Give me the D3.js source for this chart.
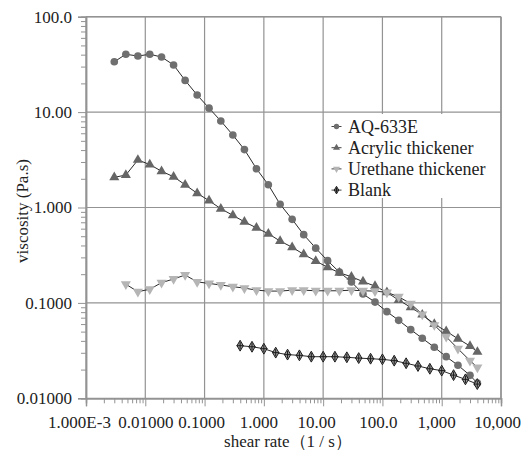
<!DOCTYPE html>
<html><head><meta charset="utf-8">
<script src="https://cdn.jsdelivr.net/npm/d3@7"></script>
<style>body{margin:0;background:#fff}svg{display:block}
svg text{font-family:"Liberation Serif","Times New Roman",Tinos,"Nimbus Roman","DejaVu Serif",serif !important;}
</style>
</head><body>
<svg id="c" width="530" height="457"></svg>
<script>
// ---- data ----
const xMain = [0.003,0.0047,0.0075,0.0119,0.0188,0.03,0.047,0.075,0.119,0.188,0.3,0.47,0.75,1.19,1.88,3,4.7,7.5,11.9,18.8,30,47,75,119,188,300,470,750,1190,1880,3000,4000];
const aq633e = [33.7,40.4,38.7,40.4,37.8,31.2,21.5,15.1,11.0,8.07,5.75,4.05,2.55,1.73,1.08,0.752,0.519,0.375,0.277,0.210,0.166,0.124,0.102,0.0809,0.0657,0.0524,0.0426,0.0343,0.0273,0.0222,0.0174,0.0144];
const acrylic = [2.07,2.19,3.15,2.82,2.40,2.10,1.73,1.41,1.18,0.971,0.828,0.708,0.612,0.531,0.445,0.383,0.323,0.275,0.236,0.207,0.188,0.167,0.150,0.129,0.107,0.0899,0.0752,0.0601,0.0504,0.0421,0.0353,0.0306];
const xUrethane = xMain.slice(1);
const urethane = [0.157,0.131,0.139,0.163,0.178,0.196,0.166,0.160,0.154,0.148,0.143,0.136,0.133,0.133,0.136,0.136,0.134,0.134,0.134,0.136,0.134,0.133,0.129,0.116,0.0981,0.0759,0.0586,0.0442,0.0331,0.0248,0.0211];
const xBlank = [0.398,0.631,1.0,1.585,2.51,3.98,6.31,10,15.8,25.1,39.8,63.1,100,158,251,398,631,1000,1585,2512,3981];
const blank = [0.0356,0.0347,0.0331,0.0301,0.0287,0.0282,0.0273,0.0273,0.0273,0.0269,0.0264,0.0260,0.0256,0.0248,0.0233,0.0218,0.0204,0.0195,0.0175,0.0158,0.0141];
const seriesNames = ["AQ-633E","Acrylic thickener","Urethane thickener","Blank"];
const xTickValues = [1e-3,1e-2,1e-1,1,10,100,1000,10000];
const xTickLabels = ["1.000E-3","0.01000","0.1000","1.000","10.00","100.0","1,000","10,000"];
const yTickValues = [0.01,0.1,1,10,100];
const yTickLabels = ["0.01000","0.1000","1.000","10.00","100.0"];
const xTitle = "shear rate（1 / s）";
const yTitle = "viscosity (Pa.s)";

// ---- layout ----
const svg = d3.select("#c");
const L=86, R=501, T=16.7, B=398.3;
const x = d3.scaleLog().domain([1e-3,1e4]).range([L,R]);
const y = d3.scaleLog().domain([0.01,100]).range([B,T]);
const gridC = "#939393";
const xLabelShift = [-7,0,-3.5,-5.5,-7,-4.5,-5.5,-4];

// grid
const g = svg.append("g");
g.selectAll(".vg").data(xTickValues).join("line")
  .attr("x1",d=>x(d)).attr("x2",d=>x(d)).attr("y1",T).attr("y2",B)
  .attr("stroke",gridC).attr("stroke-width",1.2);
g.selectAll(".hg").data(yTickValues).join("line")
  .attr("x1",L).attr("x2",R).attr("y1",d=>y(d)).attr("y2",d=>y(d))
  .attr("stroke",gridC).attr("stroke-width",1.2);

// minor ticks
const minorX=[], minorY=[];
for(let e=-3;e<4;e++) for(let k=2;k<10;k++) minorX.push(k*Math.pow(10,e));
for(let e=-2;e<2;e++) for(let k=2;k<10;k++) minorY.push(k*Math.pow(10,e));
const xAxis = d3.axisBottom(x).tickValues(xTickValues).tickFormat((d,i)=>xTickLabels[i]).tickSize(8).tickPadding(10);
const xMinor = d3.axisBottom(x).tickValues(minorX).tickFormat("").tickSize(5);
const yAxis = d3.axisLeft(y).tickValues(yTickValues).tickFormat((d,i)=>yTickLabels[i]).tickSize(8).tickPadding(6);
const yMinor = d3.axisLeft(y).tickValues(minorY).tickFormat("").tickSize(5);

function styleAxis(sel){
  sel.attr("font-family",null);
  sel.select(".domain").attr("stroke",gridC).attr("stroke-width",1.5);
  sel.selectAll(".tick line").attr("stroke",gridC).attr("stroke-width",1);
  sel.selectAll(".tick text").attr("font-size",17).attr("fill","#222");
}
const gx = svg.append("g").attr("transform",`translate(0,${B})`).call(xAxis).call(styleAxis);
gx.selectAll(".tick text").attr("dx",(d,i)=>xLabelShift[i]);
svg.append("g").attr("transform",`translate(0,${B})`).call(xMinor).call(styleAxis);
const gy = svg.append("g").attr("transform",`translate(${L},0)`).call(yAxis).call(styleAxis);
gy.selectAll(".tick text").attr("x",-14);
svg.append("g").attr("transform",`translate(${L},0)`).call(yMinor).call(styleAxis);
// frame top/right
svg.append("line").attr("x1",L).attr("x2",R).attr("y1",T).attr("y2",T).attr("stroke",gridC).attr("stroke-width",1.5);
svg.append("line").attr("x1",R).attr("x2",R).attr("y1",T).attr("y2",B).attr("stroke",gridC).attr("stroke-width",1.5);

// titles
svg.append("text").attr("x",288).attr("y",447).attr("text-anchor","middle")
  .attr("font-size",17).attr("fill","#222").text(xTitle);
svg.append("text").attr("transform","translate(28,211) rotate(-90)").attr("text-anchor","middle")
  .attr("font-size",17).attr("fill","#222").text(yTitle);

// series
const line = d3.line().x(d=>x(d[0])).y(d=>y(d[1]));
const series = [
  {name:seriesNames[0], xs:xMain, ys:aq633e, sym:d3.symbolCircle, size:46, fill:"#6f6f6f", stroke:"none"},
  {name:seriesNames[1], xs:xMain, ys:acrylic, sym:d3.symbolTriangle, size:44, fill:"#666666", stroke:"none"},
  {name:seriesNames[2], xs:xUrethane, ys:urethane, sym:d3.symbolTriangle, size:44, fill:"#b5b5b5", stroke:"none", rot:180},
  {name:seriesNames[3], xs:xBlank, ys:blank, sym:d3.symbolDiamond, size:34, fill:"#9a9a9a", stroke:"#1a1a1a", cross:true}
];
function drawSym(sel, s, scale){
  const p = d3.symbol().type(s.sym).size(s.size*scale*scale)();
  sel.append("path").attr("d",p).attr("fill",s.fill).attr("stroke",s.stroke).attr("stroke-width",1)
    .attr("transform",s.rot?`rotate(${s.rot})`:null);
  if(s.cross){
    const r=3.6*scale;
    sel.append("path").attr("d",`M${-r},0H${r}M0,${-r}V${r}`).attr("stroke","#1a1a1a").attr("stroke-width",1);
  }
}
series.forEach(s=>{
  const pts = s.xs.map((v,i)=>[v,s.ys[i]]);
  svg.append("path").attr("d",line(pts)).attr("fill","none").attr("stroke","#2a2a2a").attr("stroke-width",1);
});
series.forEach(s=>{
  const pts = s.xs.map((v,i)=>[v,s.ys[i]]);
  svg.append("g").selectAll("g").data(pts).join("g")
    .attr("transform",d=>`translate(${x(d[0])},${y(d[1])})`)
    .each(function(){ drawSym(d3.select(this), s, 1); });
});

// legend
const lg = svg.append("g");
lg.append("rect").attr("x",329).attr("y",114).attr("width",168).attr("height",84).attr("fill","#fff");
series.forEach((s,i)=>{
  const cy = 126.5 + i*21.2;
  const row = lg.append("g").attr("transform",`translate(336.5,${cy})`);
  row.append("line").attr("x1",-5).attr("x2",5).attr("y1",0).attr("y2",0).attr("stroke","#444").attr("stroke-width",1);
  drawSym(row, s, 0.7);
  lg.append("text").attr("x",348).attr("y",cy).attr("dy","0.35em")
    .attr("font-size",18).attr("fill","#222").text(s.name);
});
</script>
</body></html>
